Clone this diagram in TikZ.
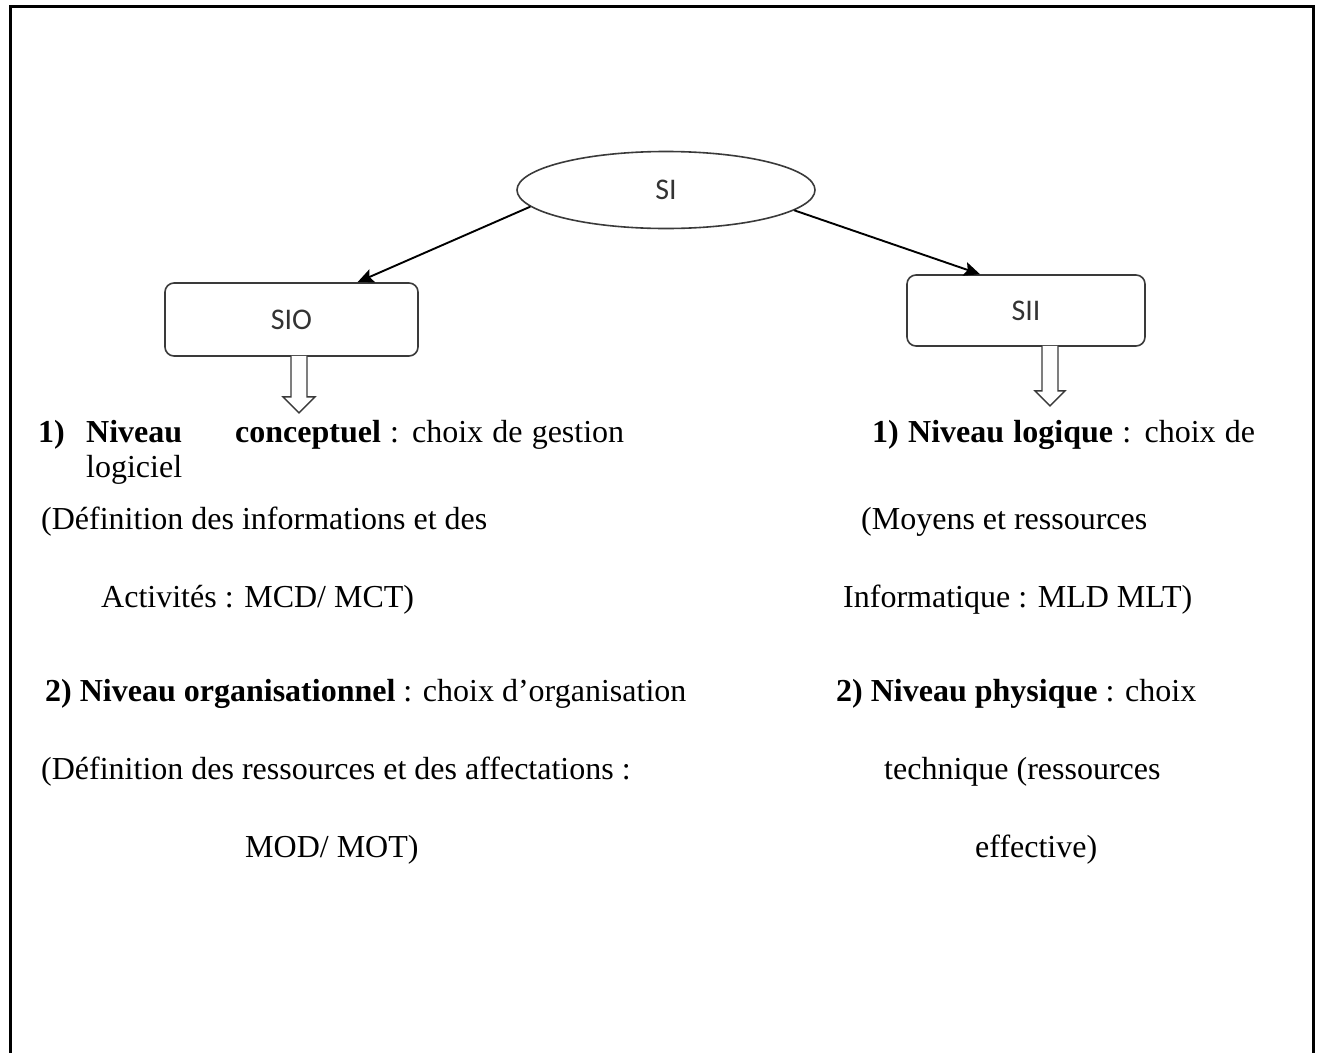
\documentclass[tikz,border=0pt]{standalone}
\usepackage{fontspec}
\setmainfont{Liberation Serif}
\newfontfamily\labelfont{Carlito}
\usetikzlibrary{shapes.geometric,arrows.meta,calc}
\definecolor{shapegray}{HTML}{3A3A3A}
\definecolor{labelgray}{HTML}{333333}
\begin{document}
\begin{tikzpicture}[x=1pt,y=-1pt,
  txt/.style={anchor=base west, inner sep=0pt, font=\fontsize{32}{38}\selectfont},
  shapelabel/.style={font=\labelfont\fontsize{30}{35}\selectfont, text=labelgray},
  roundbox/.style={draw=shapegray, line width=1.6pt, rounded corners=9pt, shapelabel},
  connector/.style={draw=black, line width=1.9pt, -{Stealth[length=16pt,width=14pt,inset=3pt]}},
  hollowarrow/.style={draw=shapegray, line width=1.4pt, fill=white}]
\useasboundingbox (0,0) rectangle (1319,1052);
\draw[line width=3pt] (10.5,1060) -- (10.5,6.5) -- (1313.5,6.5) -- (1313.5,1060);

\node[ellipse, draw=shapegray, line width=1.6pt, minimum width=298pt, minimum height=77pt, shapelabel] (si) at (666,190) {SI};
\node[roundbox, minimum width=253pt, minimum height=73pt] (sio) at (291.5,319.5) {SIO};
\node[roundbox, minimum width=238pt, minimum height=71pt] (sii) at (1026,310.5) {SII};

\draw[connector] (si.187.8) -- ($(sio.north)+(66,0)$);
\draw[connector] (si.351.4) -- ($(sii.north)+(-46,0)$);

\draw[hollowarrow, shift={(sio.south)}] (-0.5,-1) -- (-0.5,40) -- (-8.5,40) -- (7.5,56) -- (23.5,40) -- (15.5,40) -- (15.5,-1);
\draw[hollowarrow, shift={(sii.south)}] (16,-1) -- (16,44) -- (9,44) -- (24,59) -- (39,44) -- (32,44) -- (32,-1);

% left column
\node[txt] (l1a) at (38,442) {\textbf{1)}};
\node[txt] (l1b) at (86,442) {\textbf{Niveau}};
\node[txt] (l1c) at (235,442) {\makebox[389pt][s]{\textbf{conceptuel} : choix de gestion}};
\node[txt] (l2) at (86,477) {logiciel};
\node[txt] (l3) at (41,529) {(Définition des informations et des};
\node[txt] (l4) at (101,607) {Activités : MCD/ MCT)};
\node[txt] (l5) at (45,701) {\textbf{2) Niveau organisationnel} : choix d’organisation};
\node[txt] (l6) at (41,779) {(Définition des ressources et des affectations :};
\node[txt] (l7) at (245,857) {MOD/ MOT)};

% right column
\node[txt] (r1) at (872,442) {\makebox[383pt][s]{\textbf{1) Niveau logique} : choix de}};
\node[txt] (r2) at (861,529) {(Moyens et ressources};
\node[txt] (r3) at (843,607) {Informatique : MLD MLT)};
\node[txt] (r4) at (836,701) {\textbf{2) Niveau physique} : choix};
\node[txt] (r5) at (884,779) {technique (ressources};
\node[txt] (r6) at (975,857) {effective)};
\end{tikzpicture}
\end{document}
